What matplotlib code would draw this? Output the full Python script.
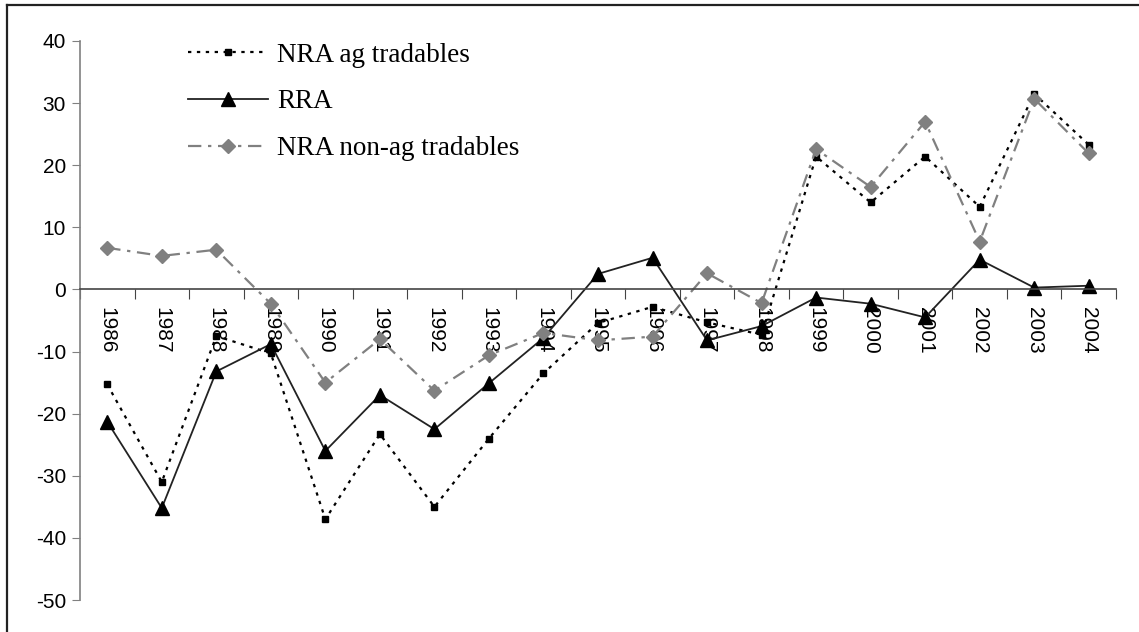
import matplotlib
matplotlib.use("Agg")
import matplotlib.pyplot as plt
from matplotlib.lines import Line2D
import numpy as np

plt.rcParams["axes.unicode_minus"] = False

years = [str(y) for y in range(1986, 2005)]
nra_ag = [-15.3, -31.0, -7.5, -10.3, -37.0, -23.3, -35.0, -24.0, -13.5, -5.4,
          -2.8, -5.3, -7.3, 21.4, 14.0, 21.4, 13.3, 31.5, 23.3]
rra = [-21.3, -35.2, -13.2, -8.8, -26.0, -17.0, -22.5, -15.1, -7.8, 2.5,
       5.1, -8.2, -5.9, -1.3, -2.3, -4.5, 4.8, 0.3, 0.6]
nra_nonag = [6.7, 5.4, 6.4, -2.3, -15.0, -8.0, -16.3, -10.6, -7.0, -8.2,
             -7.6, 2.6, -2.2, 22.6, 16.5, 27.0, 7.7, 30.7, 21.9]

x = np.arange(len(years))

fig = plt.figure(figsize=(11.39, 6.32), dpi=100)
ax = fig.add_axes([80 / 1139, 1 - 600 / 632, 1036 / 1139, 559 / 632])

# courbes
ax.plot(x, nra_ag, color="black", linestyle=(0, (1.5, 2.5)), linewidth=1.6,
        marker="s", markersize=5, label="NRA ag tradables")
ax.plot(x, rra, color="#222222", linestyle="-", linewidth=1.3,
        marker="^", markersize=10, markerfacecolor="black", markeredgecolor="black",
        label="RRA")
ax.plot(x, nra_nonag, color="#808080", linestyle=(0, (6, 3, 1.5, 3)), linewidth=1.6,
        marker="D", markersize=7, label="NRA non-ag tradables")

ax.set_xlim(-0.5, len(years) - 0.5)
ax.set_ylim(-50, 40)
ax.set_yticks(np.arange(-50, 41, 10))

# axes
for s in ["top", "right"]:
    ax.spines[s].set_visible(False)
ax.spines["left"].set_color("#808080")
ax.spines["left"].set_linewidth(1.2)
ax.spines["bottom"].set_position(("data", 0))
ax.spines["bottom"].set_color("#444444")
ax.spines["bottom"].set_linewidth(1.2)

ax.set_xticks(np.arange(len(years) + 1) - 0.5)
ax.set_xticklabels([])
ax.set_xticks(x, minor=True)
ax.set_xticklabels(years, minor=True, rotation=270, fontsize=15,
                   fontfamily="Liberation Sans")
ax.tick_params(axis="x", which="major", direction="out", length=7, color="#444444")
ax.tick_params(axis="x", which="minor", length=0, pad=13)
ax.tick_params(axis="y", direction="out", length=6, color="#808080",
               labelsize=15, pad=4)
for t in ax.get_yticklabels():
    t.set_fontfamily("Liberation Sans")

leg = ax.legend(loc="upper left", bbox_to_anchor=(0.104, 0.997), frameon=False,
                prop={"family": "Liberation Serif", "size": 19.5},
                handlelength=2.95, handletextpad=0.35, labelspacing=0.8,
                borderpad=0, borderaxespad=0)

# cadre
fig.add_artist(Line2D([7 / 1139, 7 / 1139], [0, 1 - 5 / 632], color="#222222", linewidth=1.6))
fig.add_artist(Line2D([7 / 1139, 1], [1 - 5 / 632, 1 - 5 / 632], color="#222222", linewidth=1.6))

fig.savefig("out.png", dpi=100)
